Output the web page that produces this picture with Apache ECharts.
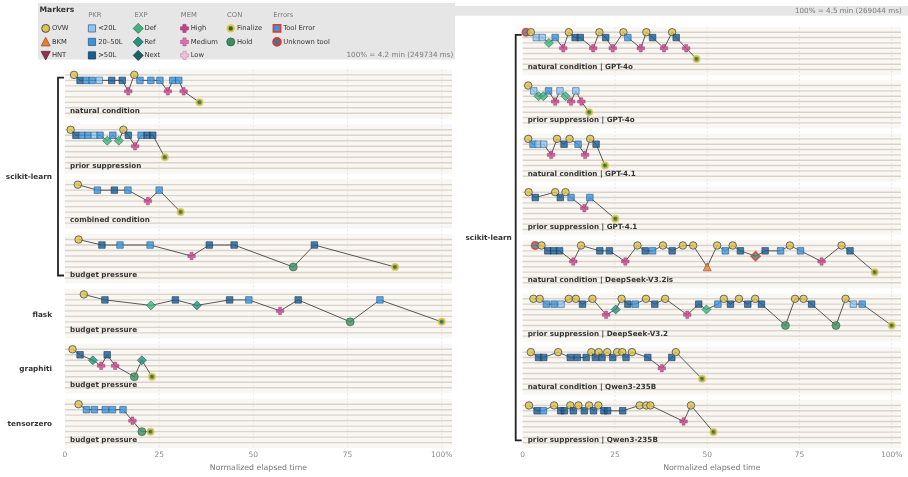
<!DOCTYPE html>
<html><head><meta charset="utf-8">
<script src="https://cdn.jsdelivr.net/npm/echarts@6/dist/echarts.min.js"></script>
<style>html,body{margin:0;padding:0;background:#fff}#c{width:908px;height:477px}</style>
</head><body><div id="c"></div>
<script>
// ================= DATA =================
const xTicks = [0, 25, 50, 75, 100];
const axisName = 'Normalized elapsed time';
const scaleLeft = '100% = 4.2 min (249734 ms)';
const scaleRight = '100% = 4.5 min (269044 ms)';

// lane (row) of each marker kind inside a panel
const laneOf = {O:0, U:0, P1:1, P2:1, P3:1, E1:2, E2:2, E3:2, M1:3, M2:3, M3:3, B:4, F:5, D:5, H:6};

// events: [normalized time %, kind]  ('!' suffix = tool error)
const skNatural = [[2.4,'O'],[4.0,'P3'],[5.6,'P2'],[7.2,'P2'],[9.1,'P1'],[12.4,'P3'],[15.2,'P3'],[16.8,'M1'],[18.4,'O'],[19.9,'P2'],[22.8,'P2'],[25.2,'P2'],[27.3,'M1'],[28.6,'P2'],[30.2,'P2'],[31.5,'M1'],[35.7,'F']];
const skPrior = [[1.5,'O'],[2.9,'P3'],[4.5,'P2'],[6.1,'P2'],[7.8,'P1'],[9.3,'P2'],[11.2,'E1'],[12.7,'P2'],[14.3,'E1'],[15.5,'O'],[16.8,'P3'],[18.6,'M1'],[20.2,'P2'],[21.8,'P3'],[23.3,'P3'],[26.5,'F']];
const skCombined = [[3.4,'O'],[8.6,'P2'],[13.1,'P3'],[16.7,'P2'],[22.0,'M1'],[25.0,'P2'],[30.7,'F']];
const skBudget = [[3.6,'O'],[9.8,'P3'],[14.6,'P2'],[22.6,'P2'],[33.6,'M1'],[38.3,'P3'],[44.9,'P3'],[60.6,'D'],[66.2,'P3'],[87.6,'F']];
const flaskBudget = [[5.0,'O'],[10.6,'P3'],[22.8,'E1'],[29.3,'P3'],[35.0,'E2'],[43.7,'P3'],[48.8,'P2'],[57.1,'M1'],[61.9,'P3'],[75.7,'D'],[83.6,'P2'],[100,'F']];
const graphitiBudget = [[2.0,'O'],[4.0,'P3'],[7.4,'E2'],[9.6,'M1'],[11.2,'P3'],[13.3,'M1'],[18.4,'D'],[20.4,'E2'],[23.1,'F']];
const tensorzeroBudget = [[3.6,'O'],[5.7,'P2'],[7.8,'P2'],[10.7,'P2'],[12.6,'P2'],[15.4,'P2'],[17.9,'M1'],[20.4,'D'],[22.7,'F']];

const gpt4oNatural = [[0.9,'U'],[2.2,'O'],[3.7,'P1'],[5.3,'P1'],[7.1,'E1'],[8.8,'P2'],[11.0,'M1'],[12.5,'O'],[14.2,'P3'],[15.6,'P3'],[19.1,'M1'],[20.8,'O'],[22.5,'P3'],[24.4,'M1'],[27.3,'O'],[28.5,'P2'],[32.0,'M1'],[33.5,'O'],[35.2,'P3'],[38.3,'M1'],[40.5,'O'],[41.6,'P3'],[44.3,'M1'],[47.1,'F']];
const gpt4oPrior = [[1.5,'O'],[3.0,'P1'],[4.3,'E1'],[5.6,'E1'],[7.0,'P2'],[8.8,'M1'],[10.1,'P1'],[11.6,'E1'],[13.1,'M1'],[14.4,'P1'],[15.9,'M1'],[18.0,'F']];
const gpt41Natural = [[1.5,'O'],[2.8,'P2'],[4.2,'P1'],[5.7,'P1'],[7.7,'M1'],[9.3,'O'],[11.2,'P3'],[12.7,'O'],[15.0,'P2'],[16.9,'M1'],[18.3,'O'],[19.9,'P3'],[22.3,'F']];
const gpt41Prior = [[1.6,'O'],[3.4,'P3'],[8.8,'O'],[10.2,'P3'],[11.6,'O'],[13.1,'P2'],[16.7,'M1'],[18.2,'P2'],[25.1,'F']];
const dsNatural = [[3.4,'U'],[5.1,'O'],[6.8,'P3'],[8.4,'P3'],[10.0,'P3'],[13.7,'M1'],[15.8,'O'],[20.9,'P3'],[23.5,'P3'],[27.8,'M1'],[31.1,'O'],[33.2,'P3'],[35.2,'P2'],[38.0,'O'],[40.5,'P3'],[43.4,'O'],[46.2,'O'],[50.0,'B'],[52.7,'O'],[54.9,'P2'],[56.9,'O'],[59.0,'P3'],[63.1,'E2!'],[65.7,'P3'],[69.9,'P2'],[72.4,'O'],[75.3,'P2'],[81.0,'M1'],[86.4,'O'],[88.7,'P3'],[95.4,'F']];
const dsPrior = [[2.9,'O'],[4.6,'O'],[6.4,'P2'],[8.5,'P2'],[10.4,'P1'],[12.5,'O'],[14.4,'O'],[16.2,'P3'],[18.9,'O'],[22.6,'M1'],[25.2,'E2'],[26.8,'O'],[28.5,'P3'],[30.5,'P2'],[33.4,'O'],[35.8,'P3'],[38.6,'O'],[44.6,'M1'],[47.7,'P3'],[49.8,'E1'],[52.9,'P2'],[54.5,'O'],[56.3,'P3'],[58.6,'O'],[61.0,'P3'],[63.0,'O'],[64.7,'P3'],[71.2,'D'],[73.8,'O'],[76.1,'O'],[78.3,'P3'],[84.9,'D'],[87.5,'O'],[89.6,'P1'],[92.0,'P2'],[100,'F']];
const qwenNatural = [[2.2,'O'],[4.3,'P3'],[5.7,'P3'],[9.6,'O'],[12.9,'P3'],[14.8,'P3'],[17.2,'P3'],[18.6,'O'],[19.7,'P3'],[20.6,'O'],[21.5,'P3'],[22.9,'O'],[24.4,'P3'],[25.6,'O'],[27.0,'O'],[28.0,'P3'],[29.6,'O'],[33.9,'P3'],[37.7,'M1'],[40.4,'P3'],[41.5,'O'],[48.6,'F']];
const qwenPrior = [[1.7,'O'],[3.9,'P3'],[5.6,'P2'],[8.5,'O'],[10.3,'P3'],[11.3,'P3'],[12.9,'O'],[13.7,'P3'],[15.1,'O'],[16.7,'P3'],[18.0,'O'],[19.2,'P3'],[20.5,'O'],[22.0,'P3'],[23.0,'P3'],[27.1,'P3'],[31.7,'O'],[33.5,'O'],[34.6,'O'],[43.6,'M1'],[45.6,'O'],[51.7,'F']];

const leftTraces = [skNatural, skPrior, skCombined, skBudget, flaskBudget, graphitiBudget, tensorzeroBudget];
const leftLabels = ['natural condition','prior suppression','combined condition','budget pressure','budget pressure','budget pressure','budget pressure'];
const leftGroups = ['scikit-learn','flask','graphiti','tensorzero'];
const leftGroupSpans = [[0,3],[4,4],[5,5],[6,6]];

const rightTraces = [gpt4oNatural, gpt4oPrior, gpt41Natural, gpt41Prior, dsNatural, dsPrior, qwenNatural, qwenPrior];
const rightLabels = ['natural condition | GPT-4o','prior suppression | GPT-4o','natural condition | GPT-4.1','prior suppression | GPT-4.1','natural condition | DeepSeek-V3.2is','prior suppression | DeepSeek-V3.2','natural condition | Qwen3-235B','prior suppression | Qwen3-235B'];
const rightGroups = ['scikit-learn'];
const rightGroupSpans = [[0,7]];

const legendCols = [
  {title:'', items:[['O','OVW'],['B','BKM'],['H','HNT']]},
  {title:'PKR', items:[['P1','<20L'],['P2','20–50L'],['P3','>50L']]},
  {title:'EXP', items:[['E1','Def'],['E2','Ref'],['E3','Next']]},
  {title:'MEM', items:[['M1','High'],['M2','Medium'],['M3','Low']]},
  {title:'CON', items:[['F','Finalize'],['D','Hold']]},
  {title:'Errors', items:[['TE','Tool Error'],['U','Unknown tool']]}
];

// ================= STYLE =================
const FONT = '"DejaVu Sans", sans-serif';
const LANES = 8, STEP = 10, LABEL_LANE = 6.55;
const symCross = 'path://M3,0H7V3H10V7H7V10H3V7H0V3H3Z';
const symHnt = 'path://M0,0H10L5,9Z';
const ERR = '#e2372c';
const S = {
  O:  {symbol:'circle', size:7.5, fill:'#e3c23e', stroke:'#3f4f6d', lw:1},
  U:  {symbol:'circle', size:7.5, fill:'#5c6a86', stroke:ERR, lw:1.6},
  B:  {symbol:'triangle', size:8, fill:'#ea7f34', stroke:'#9c4a17', lw:0.8},
  H:  {symbol:symHnt, size:8, fill:'#8e3553', stroke:'#5a1c33', lw:0.8},
  P1: {symbol:'rect', size:6.5, fill:'#8fc6f1', stroke:'#44698f', lw:0.8},
  P2: {symbol:'rect', size:6.5, fill:'#3b93dc', stroke:'#2b5f8f', lw:0.8},
  P3: {symbol:'rect', size:6.5, fill:'#1c5c92', stroke:'#173f63', lw:0.8},
  TE: {symbol:'rect', size:6.5, fill:'#3b93dc', stroke:ERR, lw:1.6},
  E1: {symbol:'diamond', size:9, fill:'#3fb47c', stroke:'#2b6f5a', lw:0.8},
  E2: {symbol:'diamond', size:9, fill:'#27917a', stroke:'#1f5d55', lw:0.8},
  E3: {symbol:'diamond', size:9, fill:'#1b5f66', stroke:'#123f45', lw:0.8},
  M1: {symbol:symCross, size:7.5, fill:'#c5438a', stroke:'#8e2a60', lw:0.5},
  M2: {symbol:symCross, size:7.5, fill:'#da72ad', stroke:'#a5437b', lw:0.5},
  M3: {symbol:symCross, size:7.5, fill:'#f2bfd9', stroke:'#c0799f', lw:0.5},
  F:  {symbol:'circle', size:6, fill:'#176b47', stroke:'#e6c23a', lw:2},
  D:  {symbol:'circle', size:8, fill:'#3f8c60', stroke:'#2a6646', lw:0.8}
};

const columns = [
  {traces:leftTraces, labels:leftLabels, groups:leftGroups, spans:leftGroupSpans,
   grid:{left:65, top:69.4, width:387, height:385}, xMax:102.73, groupTextOff:13},
  {traces:rightTraces, labels:rightLabels, groups:rightGroups, spans:rightGroupSpans,
   grid:{left:522.7, top:26.9, width:378.3, height:427}, xMax:102.52, groupTextOff:11}
];

const grids = [], xAxes = [], yAxes = [], series = [];
columns.forEach((col, ci) => {
  const n = col.traces.length;
  const yMax = (n - 1) * STEP + 8;
  grids.push(col.grid);
  xAxes.push({
    type:'value', gridIndex:ci, min:0, max:col.xMax, interval:25,
    axisLine:{show:false, onZero:false}, axisTick:{show:false}, splitLine:{show:false},
    axisLabel:{customValues:xTicks, color:'#8a8a8a', fontSize:7.5, fontFamily:FONT, margin:3,
      formatter:v => (xTicks.indexOf(v) < 0 ? '' : (v === 100 ? '100%' : String(v)))},
    name:axisName, nameLocation:'middle', nameGap:12,
    nameTextStyle:{color:'#777', fontSize:7.8, fontFamily:FONT}
  });
  yAxes.push({type:'value', gridIndex:ci, inverse:true, min:-1, max:yMax, show:false});
  const panelIdx = col.traces.map((_, p) => [0, p]);
  // panel bands
  series.push({type:'custom', xAxisIndex:ci, yAxisIndex:ci, z:1, silent:true, clip:false,
    data:panelIdx, encode:{x:0, y:1},
    renderItem:(params, api) => {
      const p = api.value(1);
      const a = api.coord([0, p*STEP - 1]), b = api.coord([col.xMax, p*STEP + 8]);
      return {type:'rect', shape:{x:a[0], y:a[1], width:b[0]-a[0], height:b[1]-a[1]}, style:{fill:'#f8f7f4'}};
    }});
  // vertical grid lines
  series.push({type:'custom', xAxisIndex:ci, yAxisIndex:ci, z:1.5, silent:true, clip:false,
    data:xTicks.filter(v => v > 0).map(v => [v, 0]), encode:{x:0, y:1},
    renderItem:(params, api) => {
      const v = api.value(0);
      const a = api.coord([v, -1]), b = api.coord([v, yMax]);
      return {type:'line', shape:{x1:a[0], y1:a[1], x2:b[0], y2:b[1]}, style:{stroke:'#e6e1da', lineWidth:0.8, lineDash:[2,2]}};
    }});
  // lane lines
  series.push({type:'custom', xAxisIndex:ci, yAxisIndex:ci, z:2, silent:true, clip:false,
    data:panelIdx, encode:{x:0, y:1},
    renderItem:(params, api) => {
      const p = api.value(1);
      const ch = [];
      for (let k = 0; k < LANES; k++) {
        const a = api.coord([0, p*STEP + k]), b = api.coord([col.xMax, p*STEP + k]);
        ch.push({type:'line', shape:{x1:a[0], y1:a[1], x2:b[0], y2:b[1]}, style:{stroke:'#dbd3c8', lineWidth:1.4}});
      }
      return {type:'group', children:ch};
    }});
  // panel labels
  series.push({type:'custom', xAxisIndex:ci, yAxisIndex:ci, z:3, silent:true, clip:false,
    data:panelIdx, encode:{x:0, y:1},
    renderItem:(params, api) => {
      const p = api.value(1);
      const pt = api.coord([0, p*STEP + LABEL_LANE]);
      return {type:'text', x:pt[0] + 5, y:pt[1],
        style:{text:col.labels[p], fill:'#333', font:'bold 7.2px ' + FONT, align:'left', verticalAlign:'middle', textAlign:'left', textVerticalAlign:'middle'}};
    }});
  // group labels + brackets
  series.push({type:'custom', xAxisIndex:ci, yAxisIndex:ci, z:3, silent:true, clip:false,
    data:col.groups.map((_, g) => [0, g]), encode:{x:0, y:1},
    renderItem:(params, api) => {
      const g = api.value(1);
      const [a, b] = col.spans[g];
      const top = api.coord([0, a*STEP]), bot = api.coord([0, b*STEP + 7]);
      const x0 = top[0];
      const ch = [{type:'text', x:x0 - col.groupTextOff, y:(top[1] + bot[1]) / 2 + 1,
        style:{text:col.groups[g], fill:'#333', font:'bold 7.3px ' + FONT, align:'right', verticalAlign:'middle', textAlign:'right', textVerticalAlign:'middle'}}];
      if (b > a) {
        const yt = api.coord([0, a*STEP + 0.5])[1], yb = api.coord([0, b*STEP + LABEL_LANE])[1];
        const bx = x0 - 7;
        ch.push({type:'polyline', shape:{points:[[x0 - 1, yt], [bx, yt], [bx, yb], [x0 - 1, yb]]}, style:{stroke:'#222', lineWidth:1.8, fill:null}});
      }
      return {type:'group', children:ch};
    }});
  // trace lines
  col.traces.forEach((tr, p) => {
    series.push({type:'line', xAxisIndex:ci, yAxisIndex:ci, z:4, silent:true, showSymbol:false, symbol:'none',
      lineStyle:{color:'#2e2e2e', width:0.8},
      data:tr.map(e => [e[0], p*STEP + laneOf[e[1].replace('!', '')]])});
  });
  // markers (time order)
  const pts = [];
  col.traces.forEach((tr, p) => {
    tr.forEach(e => {
      const err = e[1].indexOf('!') >= 0;
      const k = e[1].replace('!', '');
      const s = S[k];
      pts.push({value:[e[0], p*STEP + laneOf[k]], symbol:s.symbol, symbolSize:s.size,
        itemStyle:{color:s.fill, borderColor:err ? ERR : s.stroke, borderWidth:err ? 1.6 : s.lw}});
    });
  });
  series.push({type:'scatter', xAxisIndex:ci, yAxisIndex:ci, z:5, silent:true, clip:false, data:pts});
});

// ================= LEGEND (graphic) =================
function legendShape(code, x, y) {
  const s = S[code];
  const st = {fill:s.fill, stroke:s.stroke, lineWidth:s.lw};
  if (s.symbol === 'circle') return {type:'circle', shape:{cx:x, cy:y, r:code === 'F' ? 3.2 : 4}, style:st};
  if (s.symbol === 'rect') return {type:'rect', shape:{x:x - 3.6, y:y - 3.6, width:7.2, height:7.2}, style:st};
  if (s.symbol === 'diamond') return {type:'polygon', shape:{points:[[x, y - 5], [x + 5, y], [x, y + 5], [x - 5, y]]}, style:st};
  if (s.symbol === 'triangle') return {type:'polygon', shape:{points:[[x, y - 4.5], [x + 4.5, y + 4], [x - 4.5, y + 4]]}, style:st};
  if (s.symbol === symHnt) return {type:'polygon', shape:{points:[[x - 4.5, y - 4], [x + 4.5, y - 4], [x, y + 4.5]]}, style:st};
  const a = 1.6, b = 4;
  return {type:'polygon', shape:{points:[[x - a, y - b], [x + a, y - b], [x + a, y - a], [x + b, y - a], [x + b, y + a], [x + a, y + a], [x + a, y + b], [x - a, y + b], [x - a, y + a], [x - b, y + a], [x - b, y - a], [x - a, y - a]]}, style:st};
}
const graphic = [
  {type:'rect', shape:{x:38, y:3, width:417, height:56.5}, style:{fill:'#e6e6e6'}, z:0},
  {type:'rect', shape:{x:455, y:6, width:453, height:9.7}, style:{fill:'#e6e6e6'}, z:0},
  {type:'text', x:39.5, y:10, style:{text:'Markers', font:'bold 7.6px ' + FONT, fill:'#333', verticalAlign:'middle'}, z:1},
  {type:'text', x:453.3, y:55.3, style:{text:scaleLeft, font:'7.2px ' + FONT, fill:'#7a7a7a', align:'right', verticalAlign:'middle'}, z:1},
  {type:'text', x:901.7, y:11, style:{text:scaleRight, font:'7.2px ' + FONT, fill:'#7a7a7a', align:'right', verticalAlign:'middle'}, z:1}
];
legendCols.forEach((c, i) => {
  const sx = 45.7 + i * 46.26;
  if (c.title) graphic.push({type:'text', x:sx - 3.7, y:15.7, style:{text:c.title, font:'6.8px ' + FONT, fill:'#7a7a7a', verticalAlign:'middle'}, z:1});
  c.items.forEach((it, j) => {
    const y = 28.4 + j * 13.5;
    const g = legendShape(it[0], sx, y); g.z = 1;
    graphic.push(g);
    graphic.push({type:'text', x:sx + 6.2, y:y, style:{text:it[1], font:'6.8px ' + FONT, fill:'#333', verticalAlign:'middle'}, z:1});
  });
});

const chart = echarts.init(document.getElementById('c'), null, {renderer:'canvas'});
chart.setOption({
  animation:false,
  backgroundColor:'#fff',
  textStyle:{fontFamily:FONT},
  grid:grids, xAxis:xAxes, yAxis:yAxes, series:series, graphic:graphic
});
</script></body></html>
